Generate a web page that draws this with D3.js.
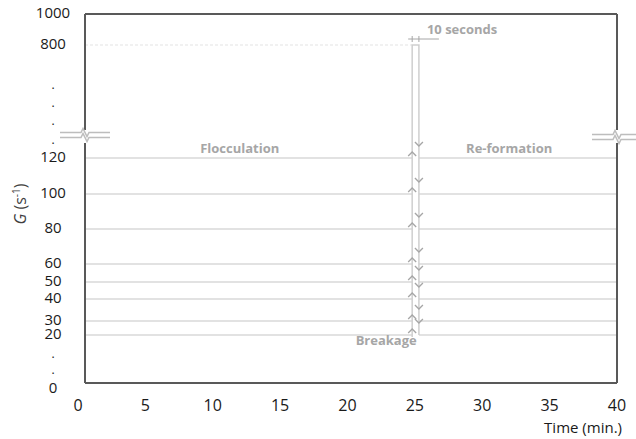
<!DOCTYPE html>
<html>
<head>
<meta charset="utf-8">
<script src="https://cdn.jsdelivr.net/npm/d3@7"></script>
<style>
  body { margin: 0; background: #fff; }
  svg { display: block; font-family: 'Open Sans', sans-serif; }
</style>
</head>
<body>
<svg id="chart" width="636" height="439"></svg>
<script>
// shear rates used for flocculation / re-formation (s^-1)
const gLevels = [120, 100, 80, 60, 50, 40, 30, 20];
const yTickValues = [0, 20, 30, 40, 50, 60, 80, 100, 120, 800, 1000];
const yBreakDots = [540, 430, 325, 210, 11, 4];
const xTickValues = [0, 5, 10, 15, 20, 25, 30, 35, 40];
const breakageG = 800;
const breakStart = 24.8;  // min, drawn width of the 10 s breakage step
const breakEnd = 25.3;

const grey = '#a6a6a6';
const lightGrey = '#d9d9d9';
const frameColor = '#595959';

const svg = d3.select('#chart');

const frame = { left: 85, right: 617, top: 14, bottom: 383 };
const breakY = { top: 130, bottom: 143 };

// broken y-axis: piecewise scale
const y = d3.scaleLinear()
  .domain([0, 20, 30, 40, 50, 60, 80, 100, 120, 800, 1000])
  .range([383, 335, 321, 299, 282, 264, 229, 194, 158, 45, 14]);

const x = d3.scaleLinear()
  .domain([0, 40])
  .range([78, 617]);

// horizontal G lines, before and after breakage
gLevels.forEach((g) => {
  svg.append('line')
    .attr('x1', frame.left).attr('x2', x(breakStart))
    .attr('y1', y(g)).attr('y2', y(g))
    .attr('stroke', lightGrey).attr('stroke-width', 1.5);
  svg.append('line')
    .attr('x1', x(breakEnd)).attr('x2', frame.right)
    .attr('y1', y(g)).attr('y2', y(g))
    .attr('stroke', lightGrey).attr('stroke-width', 1.5);
});

// dashed guide at breakage G
svg.append('line')
  .attr('x1', frame.left).attr('x2', x(breakStart))
  .attr('y1', y(breakageG)).attr('y2', y(breakageG))
  .attr('stroke', '#e3e3e3').attr('stroke-width', 1)
  .attr('stroke-dasharray', '3,2');

// breakage step (narrow box up to 800)
const minG = d3.min(gLevels);
svg.append('path')
  .attr('d', `M${x(breakStart)},${y(minG) + 2}V${y(breakageG)}H${x(breakEnd)}V${y(minG)}`)
  .attr('fill', 'none')
  .attr('stroke', '#cfcfcf')
  .attr('stroke-width', 1.5);

// arrows: up on the left edge, down on the right edge
gLevels.forEach((g) => {
  const ax = x(breakStart);
  const ay = y(g) - 6;
  svg.append('path')
    .attr('d', `M${ax - 4},${ay + 4}L${ax},${ay}L${ax + 4},${ay + 4}`)
    .attr('fill', 'none').attr('stroke', grey).attr('stroke-width', 1.3);
  const bx = x(breakEnd);
  const by = y(g) - 12;
  svg.append('path')
    .attr('d', `M${bx - 4},${by - 4}L${bx},${by}L${bx + 4},${by - 4}`)
    .attr('fill', 'none').attr('stroke', grey).attr('stroke-width', 1.3);
});

// "10 seconds" dimension marker
const markY = y(breakageG) - 6;
svg.append('line')
  .attr('x1', x(breakStart) - 4).attr('x2', x(breakEnd) + 20)
  .attr('y1', markY).attr('y2', markY)
  .attr('stroke', grey).attr('stroke-width', 1);
[breakStart, breakEnd].forEach((t) => {
  svg.append('line')
    .attr('x1', x(t)).attr('x2', x(t))
    .attr('y1', markY - 3).attr('y2', markY + 3)
    .attr('stroke', grey).attr('stroke-width', 1);
});

const note = (txt, px, py, anchor) => svg.append('text')
  .attr('x', px).attr('y', py)
  .attr('text-anchor', anchor || 'middle')
  .attr('dominant-baseline', 'middle')
  .attr('fill', grey)
  .style('font-size', '13px')
  .style('font-weight', 'bold')
  .text(txt);

note('10 seconds', x(breakEnd) + 8, 31, 'start');
note('Flocculation', x(12), y(120) - 8);
note('Re-formation', x(32), y(120) - 8);
note('Breakage', x(breakStart) - 26, y(minG) + 7);

// frame with axis breaks
const frameLines = [
  [frame.left, frame.top, frame.right, frame.top],
  [frame.left, frame.bottom, frame.right, frame.bottom],
  [frame.left, frame.top, frame.left, breakY.top],
  [frame.left, breakY.bottom, frame.left, frame.bottom],
  [frame.right, frame.top, frame.right, breakY.top],
  [frame.right, breakY.bottom, frame.right, frame.bottom],
];
frameLines.forEach(([x1, y1, x2, y2]) => {
  svg.append('line')
    .attr('x1', x1).attr('y1', y1).attr('x2', x2).attr('y2', y2)
    .attr('stroke', frameColor).attr('stroke-width', 2);
});

// break symbols
const breakMark = (cx, cy) => {
  [cy - 2.5, cy + 2.5].forEach((ly) => {
    svg.append('path')
      .attr('d', `M${cx - 25},${ly}H${cx - 4}L${cx - 2},${ly - 4}L${cx + 2},${ly + 4}L${cx + 4},${ly}H${cx + 25}`)
      .attr('fill', 'none')
      .attr('stroke', '#bdbdbd')
      .attr('stroke-width', 1.5);
  });
};
breakMark(frame.left, 135);
breakMark(frame.right, 137);

// y tick labels
svg.append('g')
  .selectAll('text')
  .data(yTickValues)
  .join('text')
  .attr('x', 53)
  .attr('y', d => y(d) + (d === 0 ? 6 : 0))
  .attr('text-anchor', 'middle')
  .attr('dominant-baseline', 'middle')
  .attr('fill', '#1a1a1a')
  .style('font-size', '15px')
  .text(d => d);

svg.append('g')
  .selectAll('text')
  .data(yBreakDots)
  .join('text')
  .attr('x', 53)
  .attr('y', d => y(d) + 1)
  .attr('text-anchor', 'middle')
  .attr('fill', '#1a1a1a')
  .style('font-size', '12px')
  .text('.');

// x tick labels
svg.append('g')
  .selectAll('text')
  .data(xTickValues)
  .join('text')
  .attr('x', d => x(d))
  .attr('y', 407)
  .attr('text-anchor', 'middle')
  .attr('dominant-baseline', 'middle')
  .attr('fill', '#1a1a1a')
  .style('font-size', '16px')
  .text(d => d);

svg.append('text')
  .attr('x', 622)
  .attr('y', 429)
  .attr('text-anchor', 'end')
  .attr('dominant-baseline', 'middle')
  .attr('fill', '#1a1a1a')
  .style('font-size', '15px')
  .text('Time (min.)');

// y axis title: G (s^-1)
const yTitle = svg.append('text')
  .attr('transform', 'translate(26, 204) rotate(-90)')
  .attr('text-anchor', 'middle')
  .attr('fill', '#404040')
  .style('font-size', '16px');
yTitle.append('tspan').style('font-style', 'italic').text('G');
yTitle.append('tspan').text(' (s');
yTitle.append('tspan').attr('dy', -6).style('font-size', '10px').text('-1');
yTitle.append('tspan').attr('dy', 6).text(')');
</script>
</body>
</html>
